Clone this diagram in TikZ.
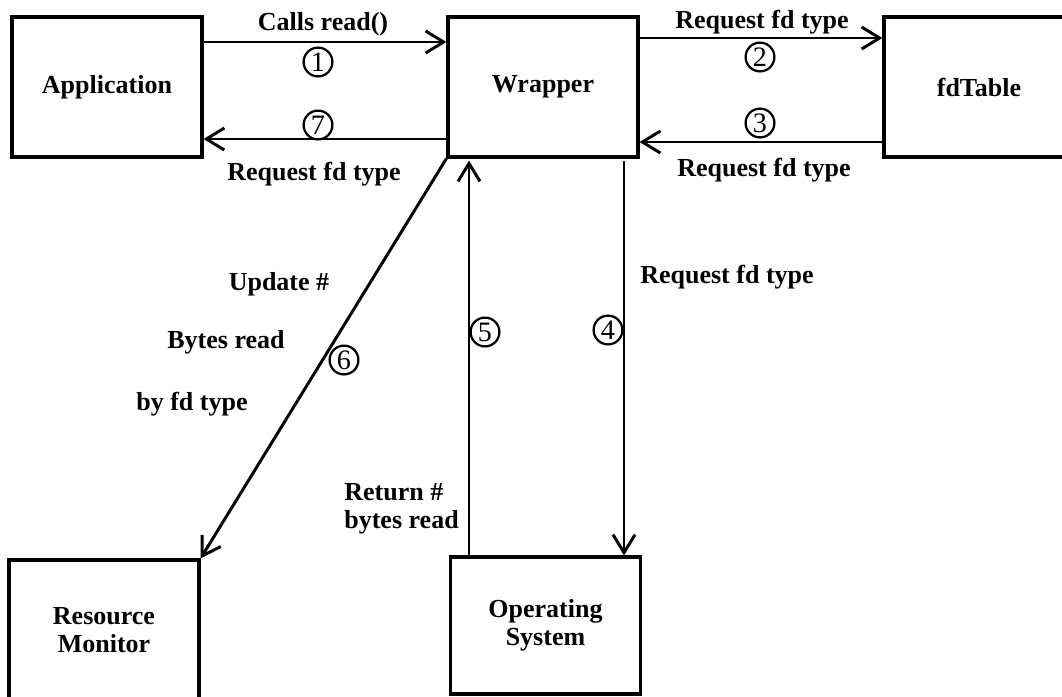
\documentclass[tikz,border=0pt]{standalone}
\usepackage{fontspec}
\setmainfont{Liberation Serif}
\usetikzlibrary{arrows.meta}

\begin{document}
\begin{tikzpicture}[x=0.25cm, y=-0.25cm,
    every node/.style={font=\fontsize{18.5}{20}\selectfont\bfseries},
    block/.style={draw, line width=2.2pt, minimum width=4.75cm, minimum height=3.5cm, align=center, inner sep=0pt},
    flow/.style={line width=2.1pt, -{Straight Barb[length=0.45cm, width=0.55cm]}},
    stepno/.style={draw, circle, line width=1.6pt, minimum size=0.72cm, inner sep=0pt, font=\fontsize{20}{22}\selectfont}]
        % Frame
        \clip (0,0) rectangle (106.2,69.6);

        % Components
        \node[block] (app) at (10.7,8.7) {Application};
        \node[block] (wrapper) at (54.3,8.7) {Wrapper};
        \node[block] (fdtable) at (97.9,8.7) {fdTable};
        \node[block] (monitor) at (10.4,63.0) {Resource\\Monitor};
        \node[block, minimum height=3.425cm] (os) at (54.55,62.55) {Operating\\System};

        % Calls between application, wrapper and fdTable
        \draw[flow] ([yshift=1.125cm]app.east) -- ([yshift=1.125cm]wrapper.west);
        \draw[flow] ([yshift=-1.3cm]wrapper.west) -- ([yshift=-1.3cm]app.east);
        \draw[flow] ([yshift=1.225cm]wrapper.east) -- ([yshift=1.225cm]fdtable.west);
        \draw[flow] ([yshift=-1.375cm]fdtable.west) -- ([yshift=-1.375cm]wrapper.east);

        % Operating system and resource monitor
        \coordinate (s4) at ([xshift=2.025cm, yshift=-0.05cm]wrapper.south);
        \draw[flow] (s4) -- (s4 |- os.north);
        \coordinate (s5) at ([xshift=-1.9125cm]os.north);
        \draw[flow, shorten >=0.05cm] (s5) -- (s5 |- wrapper.south);
        \draw[flow] (wrapper.south west) -- (monitor.north east);

        % Labels
        \node (lcall) at (32.3,2.4) {Calls read()};
        \node (lreq7) at (31.4,17.4) {Request fd type};
        \node (lreq2) at (76.2,2.2) {Request fd type};
        \node (lreq3) at (76.4,17.0) {Request fd type};
        \node (lreq4) at (72.7,27.7) {Request fd type};
        \node (lupd) at (27.9,28.4) {Update \#};
        \node (lbytes) at (22.6,34.2) {Bytes read};
        \node (lbyfd) at (19.2,40.4) {by fd type};
        \node[anchor=east, align=left, inner sep=0pt] (lret) at (45.9,50.9) {Return \#\\bytes read};

        % Step numbers
        \node[stepno] (n1) at (31.8,6.2) {1};
        \node[stepno] (n2) at (76.0,5.7) {2};
        \node[stepno] (n3) at (76.0,12.3) {3};
        \node[stepno] (n4) at (60.8,33.0) {4};
        \node[stepno] (n5) at (48.5,33.2) {5};
        \node[stepno] (n6) at (34.4,36.0) {6};
        \node[stepno] (n7) at (31.8,12.5) {7};
    \end{tikzpicture}
\end{document}
